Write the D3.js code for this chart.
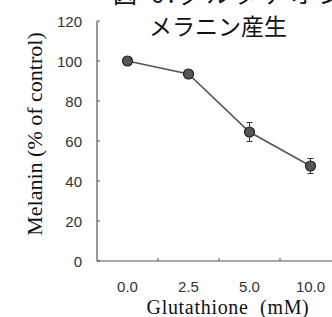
<!DOCTYPE html>
<html><head><meta charset="utf-8">
<script src="https://cdn.jsdelivr.net/npm/d3@7"></script>
<style>body{margin:0;background:#fff}svg{display:block}</style>
</head><body>
<script>
const categories = ["0.0", "2.5", "5.0", "10.0"];
const melanin = [100, 93.5, 64.5, 47.5];
const errors = [2, 2, 4.75, 3.75];
const yTicks = [0, 20, 40, 60, 80, 100, 120];

const W = 332, H = 317;
const svg = d3.select("body").append("svg").attr("width", W).attr("height", H);

const x = d3.scaleBand().domain(categories).range([97, 341]);
const y = d3.scaleLinear().domain([0, 120]).range([261, 21]);
const axisCol = "#555";

// cropped top title line
svg.append("text").attr("x", 113).attr("y", 3)
  .attr("font-family", "Noto Sans CJK JP").attr("font-size", 24)
  .attr("letter-spacing", 4).attr("fill", "#111")
  .text("図 6.グルタチオンとメ");
// title
svg.append("text").attr("x", 218).attr("y", 35).attr("text-anchor", "middle")
  .attr("font-family", "Noto Sans CJK JP").attr("font-size", 23).attr("fill", "#111")
  .text("メラニン産生");

// y axis
svg.append("line").attr("x1", 97).attr("x2", 97).attr("y1", y(120)).attr("y2", y(0))
  .attr("stroke", axisCol).attr("stroke-width", 1.2);
svg.selectAll(".yt").data(yTicks).enter().append("line")
  .attr("x1", 97).attr("x2", 100).attr("y1", d => y(d)).attr("y2", d => y(d))
  .attr("stroke", axisCol).attr("stroke-width", 1);
svg.selectAll(".yl").data(yTicks).enter().append("text")
  .attr("x", 82).attr("y", d => y(d) + 5.5).attr("text-anchor", "end")
  .attr("font-family", "Liberation Sans, Arial").attr("font-size", 15).attr("fill", "#333")
  .text(d => d);

// x axis
svg.append("line").attr("x1", 97).attr("x2", 341).attr("y1", y(0)).attr("y2", y(0))
  .attr("stroke", axisCol).attr("stroke-width", 1.2);
svg.selectAll(".xt").data(categories.slice(1)).enter().append("line")
  .attr("x1", d => x(d)).attr("x2", d => x(d)).attr("y1", y(0)).attr("y2", y(0) - 3)
  .attr("stroke", axisCol).attr("stroke-width", 1);
svg.selectAll(".xl").data(categories).enter().append("text")
  .attr("x", d => x(d) + x.bandwidth() / 2).attr("y", 292).attr("text-anchor", "middle")
  .attr("font-family", "Liberation Sans, Arial").attr("font-size", 15).attr("fill", "#333")
  .text(d => d);

// axis titles
svg.append("text").attr("x", 228).attr("y", 314).attr("text-anchor", "middle")
  .attr("font-family", "Liberation Serif, Times New Roman").attr("font-size", 20)
  .attr("letter-spacing", 0.7).attr("fill", "#111")
  .text("Glutathione\u00a0 (mM)");
svg.append("text").attr("transform", "translate(42,134) rotate(-90)").attr("text-anchor", "middle")
  .attr("font-family", "Liberation Serif, Times New Roman").attr("font-size", 22).attr("fill", "#111")
  .text("Melanin (% of control)");

// data
const pts = categories.map((c, i) => ({c, v: melanin[i], e: errors[i]}));
const cx = d => x(d.c) + x.bandwidth() / 2;
svg.append("path").datum(pts)
  .attr("d", d3.line().x(cx).y(d => y(d.v)))
  .attr("fill", "none").attr("stroke", "#555").attr("stroke-width", 1.6);
const eb = svg.selectAll(".eb").data(pts).enter().append("g").attr("stroke", "#333").attr("stroke-width", 1);
eb.append("line").attr("x1", cx).attr("x2", cx).attr("y1", d => y(d.v + d.e)).attr("y2", d => y(d.v - d.e));
eb.append("line").attr("x1", d => cx(d) - 3).attr("x2", d => cx(d) + 3).attr("y1", d => y(d.v + d.e)).attr("y2", d => y(d.v + d.e));
eb.append("line").attr("x1", d => cx(d) - 3).attr("x2", d => cx(d) + 3).attr("y1", d => y(d.v - d.e)).attr("y2", d => y(d.v - d.e));
svg.selectAll(".pt").data(pts).enter().append("circle")
  .attr("cx", cx).attr("cy", d => y(d.v)).attr("r", 5)
  .attr("fill", "#555").attr("stroke", "#222").attr("stroke-width", 1.2);
</script>
</body></html>
